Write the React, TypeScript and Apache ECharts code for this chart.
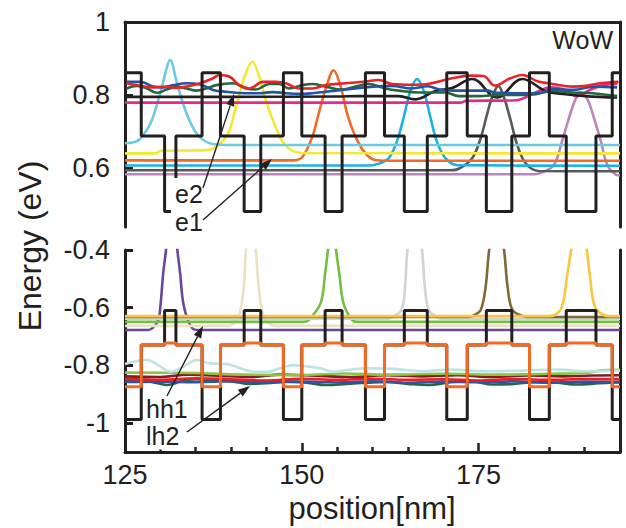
import React, { useEffect, useRef } from "react";
import * as echarts from "echarts";

// ---------- axes ----------
const X_MIN = 125;
const X_MAX = 195;
const TOP_Y_MIN = 0.4384;
const TOP_Y_MAX = 1;
const BOT_Y_MIN = -1.1;
const BOT_Y_MAX = -0.4;
const topTickLabels = [0.6, 0.8, 1];
const topTicks = [0.6, 0.8];
const botTickLabels = [-1, -0.8, -0.6, -0.4];
const xTickLabels = [125, 150, 175];
const xMajorTicks = [150, 175];
const xMinorTicks = [130, 135, 140, 145, 155, 160, 165, 170, 180, 185, 190];

// ---------- structure (nm) ----------
const barrierStart = [125, 135.9, 147.4, 159.0, 170.5, 182.2, 193.9];
const barrierEnd = [127.3, 138.5, 150.0, 161.7, 173.4, 185.0, 195];
const wellStart = [130.6, 141.85, 153.3, 164.5, 176.1, 187.4];
const wellEnd = [132.2, 144.2, 155.7, 167.75, 179.7, 191.6];
// band levels [barrier, step, well] (eV)
const cbLevels = [0.861, 0.688, 0.481];
const hhLevels = [-0.987, -0.729, -0.61];
const lhLevels = [-0.874, -0.729, -0.722];

// ---------- electron states (top) ----------
const e1Cyan = [[125, 0.668], [126.5, 0.672], [127.2, 0.681], [128.6, 0.722], [129.7, 0.786], [130.4, 0.836], [131.4, 0.896], [132.3, 0.836], [133.2, 0.777], [134.4, 0.718], [135.6, 0.684], [137.4, 0.666], [140, 0.663], [195, 0.663]];
const e1Yellow = [[125, 0.640], [129.4, 0.640], [130.0, 0.647], [136.5, 0.649], [137.9, 0.658], [139.6, 0.695], [140.7, 0.768], [141.9, 0.850], [143.0, 0.891], [144.0, 0.850], [144.9, 0.786], [146.1, 0.722], [147.3, 0.672], [148.7, 0.647], [150.6, 0.641], [195, 0.640]];
const e1Orange = [[125, 0.621], [148.8, 0.621], [150.1, 0.631], [151.5, 0.686], [152.4, 0.750], [153.4, 0.818], [154.5, 0.868], [155.5, 0.823], [156.4, 0.750], [157.6, 0.686], [159.0, 0.640], [160.4, 0.622], [162, 0.620], [195, 0.620]];
const e1Blue = [[125, 0.607], [159.5, 0.607], [160.9, 0.612], [162.3, 0.627], [163.45, 0.673], [164.4, 0.738], [165.35, 0.811], [166.3, 0.844], [167.25, 0.811], [168.2, 0.738], [169.1, 0.673], [170.3, 0.627], [171.95, 0.608], [195, 0.606]];
const e1Gray = [[125, 0.594], [171, 0.594], [172.2, 0.598], [174.1, 0.627], [175.3, 0.682], [176.2, 0.747], [176.9, 0.793], [177.8, 0.825], [178.6, 0.793], [179.5, 0.733], [180.45, 0.664], [181.65, 0.613], [183.5, 0.592], [195, 0.591]];
const e1Lilac = [[125, 0.583], [183, 0.583], [184.0, 0.588], [185.65, 0.608], [186.8, 0.673], [187.8, 0.738], [188.7, 0.788], [189.4, 0.807], [190.4, 0.788], [191.3, 0.738], [192.3, 0.673], [193.2, 0.608], [194.4, 0.582], [195, 0.58]];

const e2Pink = [[125, 0.779], [172.5, 0.779], [173.2, 0.784], [179.5, 0.785], [180.9, 0.788], [183.3, 0.809], [185.1, 0.821], [187.0, 0.816], [188.9, 0.797], [190.75, 0.814], [192.6, 0.827], [194.6, 0.830]];
const e2Black = [[125, 0.795], [140, 0.795], [155, 0.796], [158, 0.797], [163.7, 0.797], [166.05, 0.788], [168.9, 0.811], [171.25, 0.819], [174.1, 0.844], [177.6, 0.793], [181.2, 0.844], [184.5, 0.811], [187.3, 0.802], [190.1, 0.797], [194.6, 0.793]];
const e2Green = [[125.2, 0.818], [126.7, 0.825], [128.1, 0.818], [129.5, 0.806], [130.9, 0.815], [132.3, 0.823], [133.7, 0.818], [135.1, 0.812], [136.5, 0.818], [137.9, 0.827], [140.25, 0.832], [142.1, 0.818], [143.5, 0.815], [145.4, 0.830], [146.8, 0.830], [148.2, 0.818], [150.1, 0.827], [151.5, 0.830], [153.4, 0.823], [155.6, 0.815], [158.0, 0.825], [159.4, 0.830], [161.8, 0.818], [163.7, 0.812], [166.5, 0.807], [170.3, 0.807], [172.2, 0.797], [175.0, 0.797], [177.9, 0.800], [180.7, 0.800], [183.1, 0.802], [185.4, 0.811], [188.25, 0.807], [191.1, 0.805], [194.6, 0.797]];
const e2Blue = [[125.2, 0.836], [127.2, 0.836], [129.0, 0.823], [130.4, 0.821], [131.8, 0.827], [133.7, 0.832], [135.6, 0.829], [137.45, 0.814], [139.3, 0.809], [142.1, 0.805], [144.0, 0.805], [145.9, 0.808], [147.75, 0.805], [149.6, 0.803], [151.5, 0.805], [153.4, 0.809], [156.2, 0.815], [159.0, 0.821], [162.75, 0.825], [165.6, 0.818], [167.8, 0.824], [169.7, 0.814], [172.5, 0.812], [176.3, 0.812], [177.2, 0.807], [180.0, 0.805], [183.3, 0.805], [185.6, 0.816], [188.4, 0.814], [191.2, 0.823], [194.6, 0.821]];
const e2Red = [[125.2, 0.832], [127.2, 0.825], [129.0, 0.821], [130.9, 0.823], [132.3, 0.820], [133.7, 0.823], [135.6, 0.832], [137.45, 0.846], [138.4, 0.855], [139.8, 0.850], [141.2, 0.827], [142.6, 0.818], [144.5, 0.836], [146.35, 0.836], [147.75, 0.832], [149.6, 0.818], [151.5, 0.818], [153.4, 0.827], [156.2, 0.832], [159.0, 0.837], [160.9, 0.841], [162.75, 0.830], [165.6, 0.828], [168.0, 0.831], [171.1, 0.845], [173.9, 0.853], [175.7, 0.852], [177.3, 0.826], [179.4, 0.845], [181.2, 0.855], [183.3, 0.838], [185.3, 0.831], [188.3, 0.823], [190.2, 0.825], [192.2, 0.832], [194.8, 0.836]];

// ---------- hole states (bottom) ----------
const hhPurple = [[125, -0.677], [128.3, -0.677], [129.0, -0.668], [129.7, -0.643], [130.0, -0.597], [130.4, -0.481], [130.8, -0.40], [131.6, -0.2], [132.4, -0.40], [132.8, -0.481], [133.25, -0.585], [134.2, -0.66], [135.1, -0.677], [195, -0.677]];
const hhBeige = [[125, -0.663], [139.5, -0.663], [140.3, -0.655], [141.2, -0.62], [141.8, -0.527], [142.1, -0.40], [142.8, -0.25], [143.5, -0.40], [143.9, -0.527], [144.5, -0.62], [145.4, -0.655], [146.5, -0.663], [195, -0.663]];
const hhGreen = [[125, -0.649], [150.3, -0.649], [151.0, -0.642], [152.65, -0.585], [153.3, -0.481], [153.7, -0.40], [154.3, -0.25], [154.85, -0.40], [155.3, -0.481], [155.9, -0.585], [157.1, -0.642], [158, -0.649], [195, -0.649]];
const hhGray = [[125, -0.638], [162, -0.638], [162.7, -0.634], [164.1, -0.608], [164.6, -0.527], [164.95, -0.40], [166.0, -0.25], [167.0, -0.40], [167.4, -0.527], [167.95, -0.608], [169.25, -0.634], [170, -0.638], [195, -0.638]];
const hhOlive = [[125, -0.632], [173.5, -0.632], [174.2, -0.628], [175.3, -0.608], [176.0, -0.527], [176.5, -0.40], [177.5, -0.25], [178.6, -0.40], [179.1, -0.527], [179.8, -0.608], [181.4, -0.63], [182, -0.632], [195, -0.632]];
const hhGold = [[125, -0.629], [185, -0.629], [185.6, -0.627], [186.8, -0.596], [187.5, -0.492], [188.1, -0.40], [189.2, -0.25], [190.3, -0.40], [190.75, -0.492], [191.45, -0.596], [192.85, -0.627], [193.5, -0.629], [195, -0.629]];

const lhPaleCyan = [[125, -0.795], [128.1, -0.781], [130.0, -0.804], [131.4, -0.822], [133.3, -0.804], [135.1, -0.781], [137.0, -0.793], [139.4, -0.795], [141.3, -0.810], [143.2, -0.822], [145.1, -0.822], [146.9, -0.810], [148.8, -0.799], [150.7, -0.803], [152.6, -0.810], [154.5, -0.822], [156.4, -0.816], [159.2, -0.810], [163, -0.812], [167, -0.820], [171, -0.814], [176, -0.820], [181, -0.818], [186, -0.814], [190, -0.820], [195, -0.818]];
const lhLightGreen = [[125, -0.825], [135, -0.826], [140, -0.831], [150, -0.833], [156, -0.828], [162, -0.832], [170, -0.829], [178, -0.832], [185, -0.829], [190, -0.826], [192.5, -0.817], [195, -0.815]];
const lhDarkRed = [[125, -0.838], [130, -0.840], [134, -0.832], [138, -0.836], [143, -0.840], [147, -0.832], [152, -0.836], [157, -0.840], [162, -0.834], [167, -0.838], [172, -0.834], [177, -0.840], [182, -0.835], [187, -0.838], [191, -0.835], [195, -0.834]];
const lhRed = [[125, -0.846], [130, -0.850], [135, -0.845], [140, -0.848], [145, -0.852], [150, -0.846], [155, -0.850], [160, -0.846], [165, -0.850], [170, -0.848], [175, -0.852], [180, -0.847], [185, -0.850], [190, -0.847], [195, -0.848]];
const lhBlue = [[125, -0.857], [130, -0.856], [135, -0.858], [140, -0.855], [145, -0.858], [150, -0.856], [155, -0.859], [160, -0.855], [165, -0.860], [170, -0.856], [175, -0.858], [180, -0.855], [185, -0.860], [190, -0.856], [195, -0.858]];
const lhDarkGreen = [[125, -0.856], [127.2, -0.851], [129.6, -0.862], [131.0, -0.868], [132.9, -0.856], [135.1, -0.848], [137.45, -0.853], [140.3, -0.856], [142.6, -0.864], [145.1, -0.862], [147.9, -0.856], [150.7, -0.860], [153.5, -0.868], [156.4, -0.864], [159.2, -0.860], [162, -0.857], [165, -0.864], [168, -0.868], [171, -0.858], [174, -0.855], [177, -0.866], [180, -0.864], [183, -0.858], [186, -0.860], [189, -0.866], [192, -0.862], [195, -0.858]];

// ---------- annotations (pixel positions) ----------
const INK = "#231f20";
const FONT = "'Liberation Sans', Arial, sans-serif";
const arrows = [
  [203, 188, 234, 94],
  [203, 220, 272, 159],
  [167, 396, 203, 326],
  [187, 432, 250, 386],
];

function profile(levels: number[]) {
  const [b, s, w] = levels;
  const pts: number[][] = [];
  for (let i = 0; i < barrierStart.length; i++) {
    pts.push([barrierStart[i], b], [barrierEnd[i], b]);
    if (i < wellStart.length) {
      pts.push(
        [barrierEnd[i], s], [wellStart[i], s], [wellStart[i], w], [wellEnd[i], w],
        [wellEnd[i], s], [barrierStart[i + 1], s]
      );
    }
  }
  return pts;
}

function arrowGraphic(x1: number, y1: number, x2: number, y2: number) {
  const dx = x2 - x1, dy = y2 - y1;
  const len = Math.hypot(dx, dy);
  const ux = dx / len, uy = dy / len;
  const L = 12, W = 4.2;
  const bx = x2 - ux * L, by = y2 - uy * L;
  return [
    { type: "line", z: 100, shape: { x1, y1, x2: bx, y2: by }, style: { stroke: INK, lineWidth: 1.4 } },
    { type: "polygon", z: 100, shape: { points: [[x2, y2], [bx - uy * W, by + ux * W], [bx + uy * W, by - ux * W]] }, style: { fill: INK } },
  ];
}

export default function App() {
  const ref = useRef<HTMLDivElement>(null);
  useEffect(() => {
    if (!ref.current) return;
    const chart = echarts.init(ref.current, null, { renderer: "svg" });
    const curve = (data: number[][], color: string, top: boolean, smooth: number = 0.35, width = 2.6, z = 2) => ({
      type: "line",
      xAxisIndex: top ? 0 : 1,
      yAxisIndex: top ? 0 : 2,
      data,
      symbol: "none",
      smooth,
      clip: true,
      silent: true,
      z,
      lineStyle: { color, width },
    });
    const axisLine = { show: true, lineStyle: { color: INK, width: 3 } };
    const labelStyle = { color: INK, fontSize: 27, fontFamily: FONT };
    const hiddenValueAxis = (gridIndex: number, min: number, max: number, position: string) => ({
      type: "value", gridIndex, min, max, position,
      axisLine, axisTick: { show: false }, axisLabel: { show: false }, splitLine: { show: false },
    });
    const textEl = (text: string, x: number, y: number, size: number, extra: any = {}, rotation = 0) => ({
      type: "text", z: 100, x, y, rotation,
      style: { text, fill: INK, font: `${size}px ${FONT}`, textAlign: "left", textVerticalAlign: "middle", ...extra },
    });

    chart.setOption({
      animation: false,
      backgroundColor: "#ffffff",
      grid: [
        { left: 125, top: 22, width: 495, height: 205 },
        { left: 125, top: 250, width: 495, height: 202 },
      ],
      xAxis: [
        hiddenValueAxis(0, X_MIN, X_MAX, "top"),
        {
          type: "value", gridIndex: 1, min: X_MIN, max: X_MAX, position: "bottom",
          axisLine,
          axisTick: { show: true, inside: true, length: 5, customValues: xMinorTicks, lineStyle: { color: INK, width: 2.5 } },
          axisLabel: { customValues: xTickLabels, margin: 9, ...labelStyle },
          splitLine: { show: false },
        },
        {
          type: "value", gridIndex: 1, min: X_MIN, max: X_MAX, position: "bottom",
          axisLine: { show: false },
          axisTick: { show: true, inside: true, length: 9, customValues: xMajorTicks, lineStyle: { color: INK, width: 2.5 } },
          axisLabel: { show: false },
          splitLine: { show: false },
        },
      ],
      yAxis: [
        {
          type: "value", gridIndex: 0, min: TOP_Y_MIN, max: TOP_Y_MAX, position: "left",
          axisLine,
          axisTick: { show: true, inside: true, length: 8, customValues: topTicks, lineStyle: { color: INK, width: 3 } },
          axisLabel: { customValues: topTickLabels, margin: 15, ...labelStyle },
          splitLine: { show: false },
        },
        hiddenValueAxis(0, TOP_Y_MIN, TOP_Y_MAX, "right"),
        {
          type: "value", gridIndex: 1, min: BOT_Y_MIN, max: BOT_Y_MAX, position: "left",
          axisLine,
          axisTick: { show: true, inside: true, length: 8, customValues: botTickLabels, lineStyle: { color: INK, width: 3 } },
          axisLabel: { customValues: botTickLabels, margin: 15, ...labelStyle },
          splitLine: { show: false },
        },
        hiddenValueAxis(1, BOT_Y_MIN, BOT_Y_MAX, "right"),
      ],
      series: [
        // top: electron states
        curve(e1Lilac, "#bb85bf", true),
        curve(e1Gray, "#58595b", true),
        curve(e1Blue, "#1fb0e6", true),
        curve(e1Orange, "#f26a24", true),
        curve(e1Yellow, "#f4e833", true),
        curve(e1Cyan, "#6ccbe0", true),
        curve(e2Pink, "#e8288f", true, 0.4),
        curve(e2Black, "#231f20", true, 0.4),
        curve(e2Green, "#25673a", true, 0.4),
        curve(e2Blue, "#2652a3", true, 0.4),
        curve(e2Red, "#e8232a", true, 0.4),
        curve(profile(cbLevels), INK, true, 0, 3, 5),
        // bottom: hole states
        curve(lhDarkGreen, "#26683b", false, 0.4),
        curve(lhBlue, "#2b55a5", false, 0.4),
        curve(lhRed, "#ed1c24", false, 0.4),
        curve(lhDarkRed, "#861c20", false, 0.4),
        curve(lhLightGreen, "#8cc63f", false, 0.4),
        curve(lhPaleCyan, "#bde4e5", false, 0.4),
        curve(hhPurple, "#6b479c", false),
        curve(hhBeige, "#ebe2c2", false),
        curve(hhGreen, "#72bf44", false),
        curve(hhGray, "#d1d3d4", false),
        curve(hhOlive, "#7d6a35", false),
        curve(hhGold, "#f9c63c", false),
        curve(profile(hhLevels), INK, false, 0, 3, 5),
        curve(profile(lhLevels), "#f26a24", false, 0, 3, 6),
      ],
      graphic: [
        textEl("WoW", 613, 40, 25, { textAlign: "right" }),
        textEl("e2", 171, 194, 25, { backgroundColor: "#fff", padding: [4, 4, 3, 4] }),
        textEl("e1", 171, 222, 25, { backgroundColor: "#fff", padding: [3, 4, 3, 4] }),
        textEl("hh1", 144, 409, 25, { backgroundColor: "#fff", padding: [1, 2, 1, 2] }),
        textEl("lh2", 144, 436, 25, { backgroundColor: "#fff", padding: [1, 2, 1, 2] }),
        ...arrows.flatMap((a) => arrowGraphic(a[0], a[1], a[2], a[3])),
        textEl("Energy (eV)", 30, 246, 32, { textAlign: "center" }, Math.PI / 2),
        textEl("position[nm]", 372, 508, 31, { textAlign: "center" }),
      ],
    });
    return () => chart.dispose();
  }, []);
  return <div ref={ref} style={{ position: "fixed", left: 0, top: 0, width: 626, height: 528 }} />;
}
